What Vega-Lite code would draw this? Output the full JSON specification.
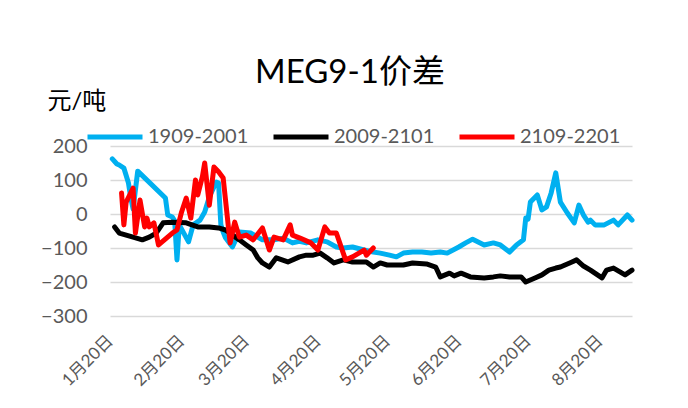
{
  "$schema": "https://vega.github.io/schema/vega-lite/v6.json",
  "width": 522,
  "height": 170,
  "autosize": {"type": "none"},
  "padding": {"left": 110, "top": 146, "right": 56, "bottom": 92},
  "background": "white",
  "title": {"text": "MEG9-1价差", "fontSize": 33, "font": "Lato, Noto Sans CJK SC", "fontWeight": "normal", "color": "#000000", "anchor": "middle", "dx": -21, "offset": -1},
  "config": {"font": "Lato, Noto Sans CJK SC", "view": {"stroke": null}},
  "data": {"values": [
    {"s":"1909-2001","d":"2021/01/21","v":162},{"s":"1909-2001","d":"2021/01/23","v":147},{"s":"1909-2001","d":"2021/01/24","v":144},{"s":"1909-2001","d":"2021/01/26","v":135},{"s":"1909-2001","d":"2021/01/28","v":91},{"s":"1909-2001","d":"2021/01/29","v":47},{"s":"1909-2001","d":"2021/01/30","v":15},{"s":"1909-2001","d":"2021/02/01","v":126},{"s":"1909-2001","d":"2021/02/13","v":47},{"s":"1909-2001","d":"2021/02/14","v":-3},{"s":"1909-2001","d":"2021/02/16","v":-9},{"s":"1909-2001","d":"2021/02/17","v":-20},{"s":"1909-2001","d":"2021/02/18","v":-135},{"s":"1909-2001","d":"2021/02/19","v":-32},{"s":"1909-2001","d":"2021/02/23","v":-82},{"s":"1909-2001","d":"2021/02/25","v":-32},{"s":"1909-2001","d":"2021/02/28","v":-18},{"s":"1909-2001","d":"2021/03/02","v":6},{"s":"1909-2001","d":"2021/03/04","v":50},{"s":"1909-2001","d":"2021/03/07","v":94},{"s":"1909-2001","d":"2021/03/08","v":91},{"s":"1909-2001","d":"2021/03/09","v":-32},{"s":"1909-2001","d":"2021/03/10","v":-53},{"s":"1909-2001","d":"2021/03/11","v":-70},{"s":"1909-2001","d":"2021/03/14","v":-97},{"s":"1909-2001","d":"2021/03/17","v":-53},{"s":"1909-2001","d":"2021/03/22","v":-56},{"s":"1909-2001","d":"2021/03/27","v":-76},{"s":"1909-2001","d":"2021/04/01","v":-76},{"s":"1909-2001","d":"2021/04/05","v":-71},{"s":"1909-2001","d":"2021/04/09","v":-85},{"s":"1909-2001","d":"2021/04/12","v":-80},{"s":"1909-2001","d":"2021/04/15","v":-85},{"s":"1909-2001","d":"2021/04/20","v":-76},{"s":"1909-2001","d":"2021/04/24","v":-82},{"s":"1909-2001","d":"2021/04/28","v":-97},{"s":"1909-2001","d":"2021/05/01","v":-100},{"s":"1909-2001","d":"2021/05/05","v":-97},{"s":"1909-2001","d":"2021/05/10","v":-106},{"s":"1909-2001","d":"2021/05/14","v":-112},{"s":"1909-2001","d":"2021/05/17","v":-115},{"s":"1909-2001","d":"2021/05/21","v":-121},{"s":"1909-2001","d":"2021/05/24","v":-126},{"s":"1909-2001","d":"2021/05/27","v":-115},{"s":"1909-2001","d":"2021/05/31","v":-112},{"s":"1909-2001","d":"2021/06/04","v":-112},{"s":"1909-2001","d":"2021/06/08","v":-115},{"s":"1909-2001","d":"2021/06/12","v":-112},{"s":"1909-2001","d":"2021/06/15","v":-115},{"s":"1909-2001","d":"2021/06/20","v":-97},{"s":"1909-2001","d":"2021/06/23","v":-85},{"s":"1909-2001","d":"2021/06/26","v":-74},{"s":"1909-2001","d":"2021/07/01","v":-91},{"s":"1909-2001","d":"2021/07/05","v":-85},{"s":"1909-2001","d":"2021/07/08","v":-91},{"s":"1909-2001","d":"2021/07/12","v":-112},{"s":"1909-2001","d":"2021/07/15","v":-91},{"s":"1909-2001","d":"2021/07/18","v":-76},{"s":"1909-2001","d":"2021/07/19","v":-12},{"s":"1909-2001","d":"2021/07/20","v":-15},{"s":"1909-2001","d":"2021/07/21","v":35},{"s":"1909-2001","d":"2021/07/24","v":56},{"s":"1909-2001","d":"2021/07/26","v":12},{"s":"1909-2001","d":"2021/07/28","v":21},{"s":"1909-2001","d":"2021/07/30","v":62},{"s":"1909-2001","d":"2021/08/01","v":121},{"s":"1909-2001","d":"2021/08/03","v":35},{"s":"1909-2001","d":"2021/08/06","v":3},{"s":"1909-2001","d":"2021/08/09","v":-26},{"s":"1909-2001","d":"2021/08/11","v":26},{"s":"1909-2001","d":"2021/08/13","v":-3},{"s":"1909-2001","d":"2021/08/15","v":-24},{"s":"1909-2001","d":"2021/08/16","v":-18},{"s":"1909-2001","d":"2021/08/18","v":-32},{"s":"1909-2001","d":"2021/08/22","v":-32},{"s":"1909-2001","d":"2021/08/26","v":-18},{"s":"1909-2001","d":"2021/08/28","v":-32},{"s":"1909-2001","d":"2021/09/01","v":-3},{"s":"1909-2001","d":"2021/09/03","v":-18},
    {"s":"2009-2101","d":"2021/01/22","v":-38},{"s":"2009-2101","d":"2021/01/24","v":-56},{"s":"2009-2101","d":"2021/01/30","v":-68},{"s":"2009-2101","d":"2021/02/03","v":-76},{"s":"2009-2101","d":"2021/02/06","v":-68},{"s":"2009-2101","d":"2021/02/09","v":-56},{"s":"2009-2101","d":"2021/02/12","v":-26},{"s":"2009-2101","d":"2021/02/16","v":-24},{"s":"2009-2101","d":"2021/02/22","v":-26},{"s":"2009-2101","d":"2021/02/27","v":-38},{"s":"2009-2101","d":"2021/03/04","v":-38},{"s":"2009-2101","d":"2021/03/08","v":-41},{"s":"2009-2101","d":"2021/03/11","v":-47},{"s":"2009-2101","d":"2021/03/14","v":-62},{"s":"2009-2101","d":"2021/03/17","v":-76},{"s":"2009-2101","d":"2021/03/20","v":-91},{"s":"2009-2101","d":"2021/03/23","v":-106},{"s":"2009-2101","d":"2021/03/25","v":-129},{"s":"2009-2101","d":"2021/03/27","v":-144},{"s":"2009-2101","d":"2021/03/30","v":-156},{"s":"2009-2101","d":"2021/04/02","v":-129},{"s":"2009-2101","d":"2021/04/07","v":-141},{"s":"2009-2101","d":"2021/04/12","v":-126},{"s":"2009-2101","d":"2021/04/15","v":-121},{"s":"2009-2101","d":"2021/04/18","v":-121},{"s":"2009-2101","d":"2021/04/21","v":-115},{"s":"2009-2101","d":"2021/04/24","v":-129},{"s":"2009-2101","d":"2021/04/27","v":-144},{"s":"2009-2101","d":"2021/05/01","v":-135},{"s":"2009-2101","d":"2021/05/05","v":-141},{"s":"2009-2101","d":"2021/05/11","v":-141},{"s":"2009-2101","d":"2021/05/14","v":-156},{"s":"2009-2101","d":"2021/05/17","v":-144},{"s":"2009-2101","d":"2021/05/20","v":-150},{"s":"2009-2101","d":"2021/05/27","v":-150},{"s":"2009-2101","d":"2021/05/31","v":-144},{"s":"2009-2101","d":"2021/06/06","v":-147},{"s":"2009-2101","d":"2021/06/10","v":-156},{"s":"2009-2101","d":"2021/06/12","v":-185},{"s":"2009-2101","d":"2021/06/16","v":-174},{"s":"2009-2101","d":"2021/06/18","v":-182},{"s":"2009-2101","d":"2021/06/21","v":-174},{"s":"2009-2101","d":"2021/06/25","v":-185},{"s":"2009-2101","d":"2021/07/01","v":-188},{"s":"2009-2101","d":"2021/07/05","v":-185},{"s":"2009-2101","d":"2021/07/08","v":-182},{"s":"2009-2101","d":"2021/07/12","v":-185},{"s":"2009-2101","d":"2021/07/17","v":-185},{"s":"2009-2101","d":"2021/07/19","v":-200},{"s":"2009-2101","d":"2021/07/23","v":-188},{"s":"2009-2101","d":"2021/07/26","v":-179},{"s":"2009-2101","d":"2021/07/29","v":-165},{"s":"2009-2101","d":"2021/08/01","v":-159},{"s":"2009-2101","d":"2021/08/03","v":-156},{"s":"2009-2101","d":"2021/08/08","v":-141},{"s":"2009-2101","d":"2021/08/10","v":-135},{"s":"2009-2101","d":"2021/08/13","v":-153},{"s":"2009-2101","d":"2021/08/16","v":-165},{"s":"2009-2101","d":"2021/08/21","v":-188},{"s":"2009-2101","d":"2021/08/23","v":-165},{"s":"2009-2101","d":"2021/08/26","v":-159},{"s":"2009-2101","d":"2021/08/31","v":-179},{"s":"2009-2101","d":"2021/09/03","v":-165},
    {"s":"2109-2201","d":"2021/01/25","v":62},{"s":"2109-2201","d":"2021/01/26","v":-32},{"s":"2109-2201","d":"2021/01/27","v":35},{"s":"2109-2201","d":"2021/01/30","v":76},{"s":"2109-2201","d":"2021/01/31","v":-56},{"s":"2109-2201","d":"2021/02/02","v":41},{"s":"2109-2201","d":"2021/02/04","v":-38},{"s":"2109-2201","d":"2021/02/05","v":-12},{"s":"2109-2201","d":"2021/02/06","v":-38},{"s":"2109-2201","d":"2021/02/08","v":-26},{"s":"2109-2201","d":"2021/02/10","v":-91},{"s":"2109-2201","d":"2021/02/16","v":-56},{"s":"2109-2201","d":"2021/02/18","v":-47},{"s":"2109-2201","d":"2021/02/20","v":6},{"s":"2109-2201","d":"2021/02/22","v":47},{"s":"2109-2201","d":"2021/02/24","v":-12},{"s":"2109-2201","d":"2021/02/26","v":100},{"s":"2109-2201","d":"2021/02/27","v":56},{"s":"2109-2201","d":"2021/03/01","v":110},{"s":"2109-2201","d":"2021/03/02","v":150},{"s":"2109-2201","d":"2021/03/04","v":26},{"s":"2109-2201","d":"2021/03/06","v":138},{"s":"2109-2201","d":"2021/03/08","v":124},{"s":"2109-2201","d":"2021/03/10","v":106},{"s":"2109-2201","d":"2021/03/13","v":-85},{"s":"2109-2201","d":"2021/03/15","v":-24},{"s":"2109-2201","d":"2021/03/17","v":-68},{"s":"2109-2201","d":"2021/03/20","v":-62},{"s":"2109-2201","d":"2021/03/23","v":-76},{"s":"2109-2201","d":"2021/03/27","v":-41},{"s":"2109-2201","d":"2021/03/30","v":-106},{"s":"2109-2201","d":"2021/04/01","v":-68},{"s":"2109-2201","d":"2021/04/05","v":-76},{"s":"2109-2201","d":"2021/04/08","v":-32},{"s":"2109-2201","d":"2021/04/09","v":-62},{"s":"2109-2201","d":"2021/04/12","v":-70},{"s":"2109-2201","d":"2021/04/17","v":-85},{"s":"2109-2201","d":"2021/04/20","v":-106},{"s":"2109-2201","d":"2021/04/23","v":-38},{"s":"2109-2201","d":"2021/04/25","v":-56},{"s":"2109-2201","d":"2021/04/28","v":-56},{"s":"2109-2201","d":"2021/05/02","v":-135},{"s":"2109-2201","d":"2021/05/05","v":-126},{"s":"2109-2201","d":"2021/05/10","v":-106},{"s":"2109-2201","d":"2021/05/11","v":-121},{"s":"2109-2201","d":"2021/05/14","v":-100}
  ]},
  "mark": {"type": "line", "strokeWidth": 5, "strokeJoin": "round", "strokeCap": "round"},
  "encoding": {
    "x": {
      "field": "d", "type": "temporal",
      "scale": {"domain": [{"year": 2021, "month": 1, "date": 20}, {"year": 2021, "month": 9, "date": 3}]},
      "axis": {
        "title": null, "grid": false, "domain": false, "ticks": false,
        "values": [{"year": 2021, "month": 1, "date": 20}, {"year": 2021, "month": 2, "date": 20}, {"year": 2021, "month": 3, "date": 20}, {"year": 2021, "month": 4, "date": 20}, {"year": 2021, "month": 5, "date": 20}, {"year": 2021, "month": 6, "date": 20}, {"year": 2021, "month": 7, "date": 20}, {"year": 2021, "month": 8, "date": 20}],
        "format": "%-m月%-d日", "labelAngle": -45, "labelAlign": "right", "labelBaseline": "middle",
        "labelFontSize": 17, "labelColor": "#595959", "labelPadding": 22, "labelOverlap": false, "labelFlush": false
      }
    },
    "y": {
      "field": "v", "type": "quantitative",
      "scale": {"domain": [-300, 200], "nice": false, "zero": false},
      "axis": {
        "values": [-300, -200, -100, 0, 100, 200],
        "title": "元/吨", "titleAngle": 0, "titleAlign": "left", "titleBaseline": "alphabetic",
        "titleX": -63, "titleY": -38, "titleFontSize": 24, "titleFontWeight": "normal", "titleColor": "#000000",
        "domain": false, "ticks": false, "grid": true, "gridColor": "#d9d9d9", "gridWidth": 1.3,
        "labelFontSize": 20, "labelColor": "#595959", "labelPadding": 23
      }
    },
    "color": {
      "field": "s", "type": "nominal",
      "scale": {"domain": ["1909-2001", "2009-2101", "2109-2201"], "range": ["#00B0F0", "#000000", "#FF0000"]},
      "legend": {
        "title": null, "orient": "none", "direction": "horizontal", "legendX": -25, "legendY": -39,
        "symbolType": "stroke", "symbolSize": 3025, "symbolStrokeWidth": 5,
        "labelFontSize": 20, "labelColor": "#595959", "labelOffset": 3, "columnPadding": 14, "gridAlign": "all"
      }
    }
  }
}
